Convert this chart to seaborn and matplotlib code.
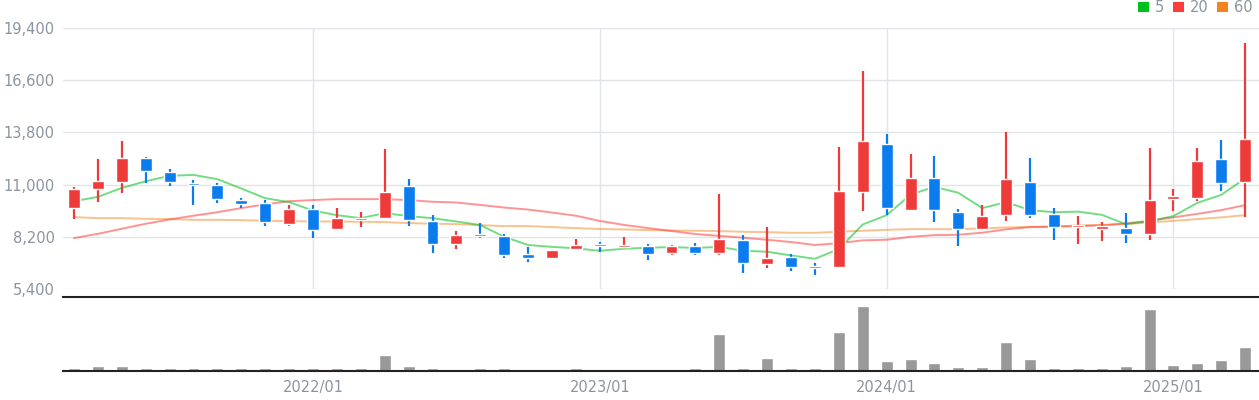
import matplotlib
matplotlib.use("Agg")
import matplotlib.pyplot as plt
from matplotlib.patches import Patch
import seaborn as sns
import numpy as np

# monthly candles, 2021/03 .. 2025/04
months = [f"{2021 + (m + 2) // 12}/{(m + 2) % 12 + 1:02d}" for m in range(50)]

opens = [9750, 10750, 11130, 12410, 11660, 11090, 10970, 10160, 10000, 8900,
         9680, 8610, 9100, 9200, 10910, 9040, 7810, 8340, 8240, 7270,
         7060, 7540, 7810, 7650, 7700, 7330, 7700, 7330, 8020, 6740,
         7110, 6630, 6580, 10590, 13160, 9630, 11340, 9520, 8610, 9360,
         11130, 9420, 8720, 8610, 8670, 8340, 10220, 10270, 12360, 11130]
highs = [10860, 12360, 13320, 12470, 11820, 11240, 11080, 10270, 10200, 9900,
         9880, 9740, 9520, 12900, 11290, 9360, 8500, 8930, 8340, 7650,
         7490, 8080, 7920, 8180, 7810, 7760, 7860, 10490, 8290, 8720,
         7270, 6790, 13000, 17070, 13700, 12630, 12520, 9680, 9900, 13800,
         12410, 9740, 9310, 8990, 9470, 12950, 10750, 12950, 13380, 18570]
lows = [9150, 10070, 10560, 11090, 10930, 9910, 10020, 9750, 8790, 8790,
        8150, 8610, 8720, 9150, 8770, 7330, 7540, 8130, 7060, 6850,
        7010, 7490, 7380, 7600, 6950, 7220, 7220, 7220, 6260, 6520,
        6360, 6150, 6580, 9580, 9360, 9630, 8990, 7700, 8610, 9040,
        9200, 8020, 7810, 7970, 7860, 8020, 9580, 10110, 10650, 9260]
closes = [10750, 11180, 12410, 11740, 11130, 11000, 10230, 9970, 9000, 9680,
          8580, 9200, 9200, 10590, 9090, 7810, 8290, 8240, 7220, 7060,
          7490, 7760, 7720, 7750, 7270, 7700, 7330, 8080, 6790, 7060,
          6580, 6540, 10650, 13320, 9740, 11340, 9630, 8610, 9310, 11290,
          9360, 8720, 8820, 8770, 8340, 10170, 10380, 12250, 11080, 13430]

ma5 = [10110, 10340, 10820, 11180, 11470, 11520, 11290, 10790, 10270, 10060,
       9610, 9360, 9200, 9470, 9310, 9200, 9020, 8830, 8200, 7760,
       7660, 7580, 7450, 7560, 7610, 7650, 7600, 7660, 7450, 7400,
       7200, 7020, 7540, 8860, 9360, 10460, 10880, 10560, 9740, 10060,
       9630, 9520, 9550, 9380, 8880, 9040, 9310, 10020, 10450, 11330]
ma20 = [8130, 8360, 8630, 8900, 9130, 9330, 9520, 9740, 9940, 10110,
        10170, 10220, 10220, 10220, 10170, 10080, 10040, 9910, 9770, 9660,
        9500, 9330, 9050, 8840, 8670, 8510, 8350, 8250, 8150, 8040,
        7920, 7760, 7860, 8010, 8040, 8200, 8290, 8310, 8420, 8600,
        8720, 8740, 8770, 8810, 8920, 9060, 9240, 9430, 9630, 9900]
ma60 = [9255, 9200, 9200, 9165, 9150, 9110, 9110, 9095, 9060, 9040,
        9020, 9020, 9005, 8990, 8935, 8900, 8880, 8825, 8775, 8775,
        8720, 8665, 8620, 8595, 8560, 8540, 8525, 8505, 8470, 8450,
        8415, 8415, 8470, 8525, 8575, 8610, 8610, 8610, 8650, 8700,
        8735, 8755, 8810, 8845, 8880, 8970, 9055, 9150, 9240, 9360]

volume = [8, 15, 15, 10, 8, 8, 8, 8, 8, 8,
          8, 10, 8, 49, 15, 8, 0, 8, 8, 0,
          0, 8, 0, 0, 0, 0, 8, 112, 10, 40,
          10, 8, 118, 196, 31, 37, 25, 12, 12, 88,
          37, 10, 10, 10, 15, 187, 17, 25, 34, 73]

tick_months = ["2022/01", "2023/01", "2024/01", "2025/01"]
ytick_vals = [5400, 8200, 11000, 13800, 16600, 19400]

UP = "#ef3a3a"
DOWN = "#0b7cee"
GRAY_TXT = "#8b95a1"
GRID = "#e1e4e8"
MA_COLORS = {"5": "#00c01e", "20": "#ff3b3b", "60": "#f5841f"}

sns.set_theme(style="white")
plt.rcParams["font.family"] = ["DejaVu Sans"]

idx = np.arange(len(months))
o = np.array(opens)
c = np.array(closes)

fig = plt.figure(figsize=(12.59, 4.0), dpi=100)
ax = fig.add_axes([63 / 1259, 111 / 400, 1196 / 1259, 261 / 400])
axv = fig.add_axes([63 / 1259, 29 / 400, 1196 / 1259, 74 / 400])

# moving averages
for name, vals, a in [("60", ma60, 0.5), ("20", ma20, 0.55), ("5", ma5, 0.55)]:
    sns.lineplot(x=idx, y=vals, ax=ax, color=MA_COLORS[name], alpha=a,
                 linewidth=1.4, zorder=2)

# candles
colors = [UP if cc >= oo else DOWN for oo, cc in zip(o, c)]
ax.vlines(idx, lows, highs, colors=colors, linewidth=1.6, zorder=3)
body_low = np.minimum(o, c)
body_h = np.maximum(np.abs(c - o), 90)
ax.bar(idx, body_h, bottom=body_low, width=0.5, color=colors, zorder=4)

xmin, xmax = -0.46, 49.58
tick_pos = [months.index(m) for m in tick_months]

ax.set_xlim(xmin, xmax)
ax.set_ylim(5400, 19400)
ax.set_yticks(ytick_vals)
ax.set_yticklabels([f"{v:,}" for v in ytick_vals])
ax.set_xticks(tick_pos)
ax.set_xticklabels([])
ax.grid(True, color=GRID, linewidth=1.0, zorder=0)
ax.set_axisbelow(True)
ax.tick_params(axis="y", length=0, pad=6, labelsize=10.5, labelcolor=GRAY_TXT)
ax.tick_params(axis="x", length=0)
for s in ax.spines.values():
    s.set_visible(False)
ax.set_xlabel("")
ax.set_ylabel("")

# volume
sns.barplot(x=idx, y=volume, ax=axv, native_scale=True, color="#999999",
            saturation=1, width=0.5)
axv.set_xlim(xmin, xmax)
axv.set_ylim(0, 224)
axv.set_yticks([])
axv.set_xticks(tick_pos)
axv.set_xticklabels(tick_months)
axv.tick_params(axis="x", length=4.5, width=1.5, color="#222222", pad=2,
                labelsize=10.5, labelcolor=GRAY_TXT, direction="out")
for side in ["left", "right"]:
    axv.spines[side].set_visible(False)
for side in ["top", "bottom"]:
    axv.spines[side].set_color("#222222")
    axv.spines[side].set_linewidth(1.5)
axv.set_xlabel("")
axv.set_ylabel("")

handles = [Patch(facecolor=col, edgecolor="none", label=k) for k, col in MA_COLORS.items()]
fig.legend(handles=handles, loc="upper right", bbox_to_anchor=(1.003, 1.025), ncol=3,
           frameon=False, handlelength=0.75, handleheight=0.75, handletextpad=0.4,
           columnspacing=0.6, fontsize=10.5, labelcolor=GRAY_TXT, borderaxespad=0.3)

fig.savefig("out.png", dpi=100)
